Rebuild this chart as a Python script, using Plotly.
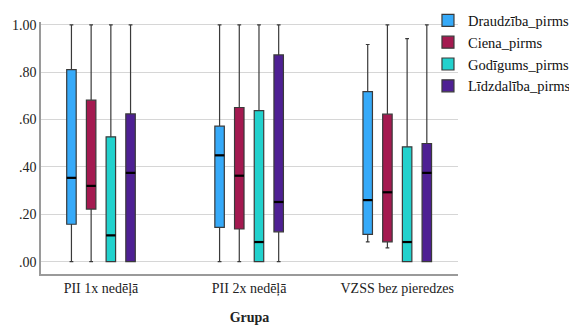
import plotly.graph_objects as go

groups = ["PII 1x nedēļā", "PII 2x nedēļā", "VZSS bez pieredzes"]
series = ["Draudzība_pirms", "Ciena_pirms", "Godīgums_pirms", "Līdzdalība_pirms"]
colors = ["#36aaf9", "#a41a50", "#22d1cd", "#4e2093"]

q1 = {
    "Draudzība_pirms": [0.158, 0.145, 0.115],
    "Ciena_pirms": [0.222, 0.138, 0.084],
    "Godīgums_pirms": [0.0, 0.0, 0.0],
    "Līdzdalība_pirms": [0.0, 0.126, 0.0],
}
median = {
    "Draudzība_pirms": [0.354, 0.449, 0.260],
    "Ciena_pirms": [0.320, 0.363, 0.293],
    "Godīgums_pirms": [0.111, 0.083, 0.083],
    "Līdzdalība_pirms": [0.375, 0.252, 0.375],
}
q3 = {
    "Draudzība_pirms": [0.811, 0.572, 0.718],
    "Ciena_pirms": [0.682, 0.651, 0.623],
    "Godīgums_pirms": [0.527, 0.638, 0.485],
    "Līdzdalība_pirms": [0.624, 0.873, 0.499],
}
lower = {
    "Draudzība_pirms": [0.0, 0.0, 0.084],
    "Ciena_pirms": [0.0, 0.0, 0.058],
    "Godīgums_pirms": [0.0, 0.0, 0.0],
    "Līdzdalība_pirms": [0.0, 0.0, 0.0],
}
upper = {
    "Draudzība_pirms": [1.0, 1.0, 0.917],
    "Ciena_pirms": [1.0, 1.0, 1.0],
    "Godīgums_pirms": [1.0, 1.0, 0.942],
    "Līdzdalība_pirms": [1.0, 1.0, 1.0],
}

ytick_vals = [0.0, 0.2, 0.4, 0.6, 0.8, 1.0]
ytick_text = [".00", ".20", ".40", ".60", ".80", "1.00"]

FONT = "Liberation Serif, Times New Roman, serif"
STEP = 0.133      # distance between neighbouring boxes inside a group
BOX_W = 0.064     # box width in axis units

group_pos = list(range(len(groups)))

fig = go.Figure()
n = len(series)
for si, (s, c) in enumerate(zip(series, colors)):
    off = (si - (n - 1) / 2) * STEP
    xs = [g + off for g in group_pos]
    fig.add_trace(go.Box(
        name=s,
        x=xs,
        q1=q1[s],
        median=median[s],
        q3=q3[s],
        lowerfence=lower[s],
        upperfence=upper[s],
        width=BOX_W,
        fillcolor=c,
        line=dict(color="#3a3a3a", width=1.2),
        whiskerwidth=0.4,
        boxpoints=False,
        hoverinfo="skip",
    ))
    mx, my = [], []
    for x, m in zip(xs, median[s]):
        mx += [x - BOX_W / 2, x + BOX_W / 2, None]
        my += [m, m, None]
    fig.add_trace(go.Scatter(
        x=mx, y=my, mode="lines",
        line=dict(color="black", width=2.2),
        showlegend=False, hoverinfo="skip",
    ))

fig.update_layout(
    width=569, height=325,
    margin=dict(l=41, r=111, t=22, b=51, autoexpand=False),
    paper_bgcolor="white",
    plot_bgcolor="white",
    font=dict(family=FONT, size=14, color="#222"),
    showlegend=True,
    legend=dict(
        x=0.928, y=1.07, xanchor="left", yanchor="top",
        bgcolor="rgba(0,0,0,0)",
        font=dict(family=FONT, size=14.5, color="#111"),
        tracegroupgap=0, itemwidth=30,
    ),
    xaxis=dict(
        range=[-0.405, 2.41],
        tickvals=group_pos, ticktext=groups,
        showline=True, linecolor="#9a9a9a", linewidth=1.5,
        showgrid=False, ticks="",
        tickfont=dict(family=FONT, size=14, color="#222"),
        title=dict(text="<b>Grupa</b>", font=dict(family=FONT, size=14, color="#222"), standoff=18),
        zeroline=False,
    ),
    yaxis=dict(
        range=[-0.052, 1.012],
        tickvals=ytick_vals, ticktext=ytick_text,
        showline=True, linecolor="#9a9a9a", linewidth=1.5,
        showgrid=True, gridcolor="#d6d6d6", gridwidth=1,
        zeroline=False, ticks="",
        tickfont=dict(family=FONT, size=14, color="#222"),
    ),
)

fig.write_html("out.html", config={"displayModeBar": False},
               post_script="document.body.style.margin='0';")
